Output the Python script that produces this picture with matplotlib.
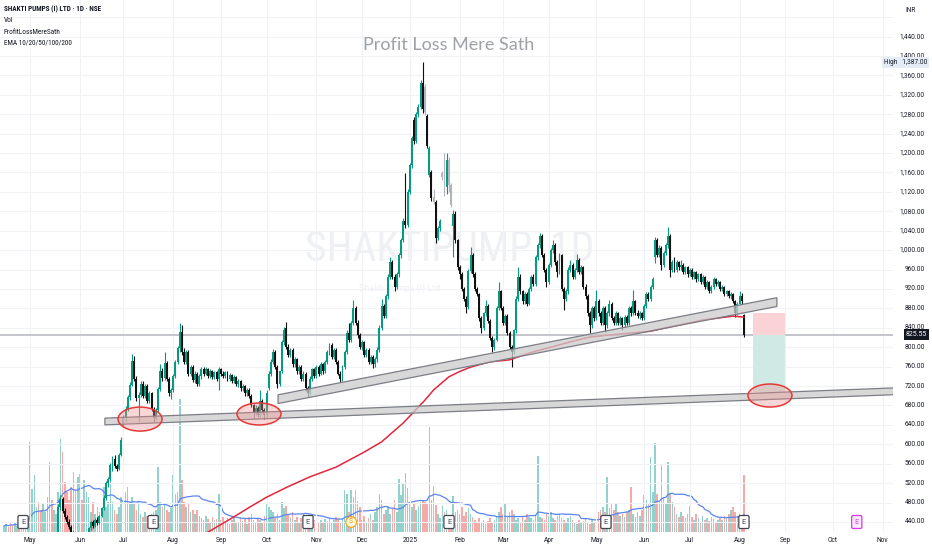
import matplotlib
matplotlib.use("Agg")
import matplotlib.pyplot as plt
import matplotlib.transforms as mtransforms
from matplotlib.patches import Polygon, Ellipse, Rectangle
from matplotlib import font_manager as fm
import numpy as np
import pandas as pd

# ---------------- data ----------------
start_date = "2024-04-15"

opens = [400,402,405,403,398,395,398,401,399,396,
393,395,399,402,404,406,408,405,402,404,
407,410,408,405,408,414,470,488,462,450,
440,430,418,410,405,408,404,402,405,410,
428,440,432,445,438,452,468,490,520,528,
558,570,556,550,578,640,655,672,698,722,
772,735,695,702,725,700,720,690,705,672,
655,670,714,752,736,768,734,706,712,740,
770,798,832,790,770,790,745,760,732,745,
725,740,755,745,755,740,750,738,748,735,
755,745,740,748,735,742,730,738,725,730,
715,720,705,712,700,680,665,675,660,690,
670,660,715,745,770,790,760,725,750,810,
840,800,785,795,765,775,750,760,735,745,
715,705,735,755,740,760,745,765,750,770,
790,805,780,795,770,745,735,760,790,830,
815,850,880,850,825,800,810,785,795,770,
780,765,775,795,840,885,865,905,945,975,
945,925,950,990,1020,1060,1052,1120,1175,1268,
1225,1280,1295,1345,1335,1276,1155,1160,1110,1100,
1025,1045,1150,1158,1130,1185,1135,1050,1075,1020,
965,950,920,900,882,958,990,950,920,910,
860,840,870,885,855,820,800,815,880,915,
880,850,865,830,800,790,835,900,945,915,
895,910,890,920,945,930,985,1010,1030,990,
960,935,970,1000,1010,975,955,990,920,900,
915,960,970,945,960,980,955,965,925,905,
870,845,880,860,895,870,850,880,845,870,
890,860,850,870,850,860,845,862,850,880,
870,895,870,865,870,860,885,910,900,925,
985,1020,990,1005,970,995,1010,1030,960,975,
960,975,965,970,955,965,950,960,945,955,
940,950,935,945,925,935,915,925,940,930,
935,920,925,910,915,905,910,895,870,890,
905,866]

highs = [405,408,410,406,402,400,404,406,403,400,
398,401,405,407,410,412,414,410,407,410,
413,415,412,410,416,478,496,492,468,455,
446,434,422,415,412,414,410,408,412,430,
442,444,448,450,455,470,495,524,532,562,
575,578,560,582,615,660,678,702,728,786,
782,740,708,730,730,724,724,710,708,676,
674,718,765,758,790,772,738,716,744,774,
802,850,846,798,795,794,764,764,750,748,
745,760,760,760,758,755,754,752,750,760,
758,750,752,750,746,745,742,740,735,733,
725,723,716,715,703,684,680,678,712,694,
675,712,750,775,796,794,764,752,815,842,
852,806,798,798,780,778,764,763,750,748,
720,740,758,758,764,763,770,768,774,794,
808,808,798,798,773,750,764,795,835,850,
855,897,885,856,830,815,813,798,798,784,
783,780,800,845,900,890,910,950,985,980,
950,955,994,1024,1066,1158,1126,1180,1236,1274,
1284,1300,1350,1387,1342,1280,1214,1165,1125,1104,
1050,1065,1162,1200,1200,1192,1138,1083,1080,1022,
970,955,925,905,962,1006,994,955,925,912,
865,872,897,888,858,824,818,884,935,918,
884,868,868,834,804,838,905,965,950,918,
914,913,924,948,950,990,1015,1035,1034,994,
964,974,1004,1020,1014,980,994,993,924,920,
965,980,974,964,992,984,970,968,930,910,
875,884,884,918,900,874,884,884,874,897,
894,865,874,873,864,863,866,866,884,884,
918,898,877,874,873,888,914,913,928,945,
1027,1024,1010,1008,998,1014,1048,1034,980,986,
980,978,980,973,968,968,964,963,958,957,
953,952,948,947,938,937,928,945,943,938,
937,928,927,918,917,913,912,898,893,915,
912,868]

lows = [395,398,400,396,392,390,394,397,393,390,
388,391,395,398,400,402,403,400,397,400,
403,405,402,400,404,412,465,458,446,436,
425,415,405,400,398,402,398,396,400,408,
424,428,430,434,435,450,465,486,512,525,
545,552,545,548,575,638,645,668,692,720,
730,690,645,698,695,696,686,686,668,645,
650,666,710,730,732,730,700,694,708,736,
765,790,785,766,765,740,740,728,726,720,
720,735,740,742,736,736,734,734,730,712,
740,736,737,730,730,726,726,720,718,710,
710,700,700,695,676,655,660,656,656,665,
652,655,712,740,765,755,716,720,746,805,
796,780,780,760,760,745,745,730,730,710,
698,702,730,736,736,740,742,745,746,765,
785,776,776,765,742,728,730,756,786,810,
810,845,845,820,796,795,780,780,766,765,
758,760,770,790,835,860,860,900,940,940,
915,920,945,984,1016,1045,1048,1115,1170,1218,
1220,1275,1290,1282,1278,1210,1150,1102,1095,1015,
1020,1040,1145,1112,1115,1120,1088,986,1015,960,
940,915,895,870,878,952,945,915,905,855,
829,836,865,850,815,790,795,812,876,876,
846,846,826,796,760,786,830,895,910,890,
890,885,886,915,926,926,980,1005,985,955,
925,930,965,995,970,945,950,915,877,896,
910,955,940,940,955,950,950,920,900,865,
829,840,855,856,865,846,846,832,840,865,
856,845,846,846,846,835,840,845,846,865,
866,866,860,858,856,856,880,895,896,920,
973,985,985,959,965,990,1005,945,955,955,
955,960,960,950,950,945,946,940,940,935,
936,930,930,920,920,911,911,920,926,926,
916,916,906,906,901,900,892,862,866,886,
890,822]

closes = [402,405,403,398,395,398,401,399,396,393,
395,399,402,404,406,408,405,402,404,407,
410,408,405,408,414,470,488,462,450,440,
430,418,410,405,408,404,402,405,410,428,
440,432,445,438,452,468,490,520,528,558,
570,556,550,578,608,655,672,698,722,772,
735,695,702,725,700,720,690,705,672,655,
670,714,752,736,768,734,706,712,740,770,
798,832,790,770,790,745,760,732,745,725,
740,755,745,755,740,750,738,748,735,755,
745,740,748,735,742,730,738,725,730,715,
720,705,712,700,680,665,675,660,690,670,
660,705,745,770,790,760,725,750,810,835,
800,785,795,765,775,750,760,735,745,715,
705,735,755,740,760,745,765,750,770,790,
805,780,795,770,745,735,760,790,830,815,
850,880,850,825,800,810,785,795,770,780,
765,775,795,840,885,865,905,945,975,945,
925,950,990,1020,1060,1052,1120,1175,1230,1225,
1280,1295,1345,1290,1285,1215,1210,1108,1100,1025,
1045,1060,1158,1130,1185,1135,1092,1075,1020,965,
950,920,900,882,958,990,950,920,910,860,
840,870,885,855,820,800,815,880,915,880,
850,865,830,800,790,835,900,945,915,895,
910,890,920,945,930,985,1010,1030,990,960,
935,970,1000,1010,975,955,990,920,900,915,
960,970,945,960,980,955,965,925,905,870,
845,880,860,895,870,850,880,845,870,890,
860,850,870,850,860,845,862,850,880,870,
895,870,865,870,860,885,910,900,925,940,
1020,990,1005,970,995,1010,1030,960,975,960,
975,965,970,955,965,950,960,945,955,940,
950,935,945,925,935,915,925,940,930,935,
920,925,910,915,905,910,895,870,890,905,
895,825.55]

volumes = [6,8,5,9,7,10,6,8,12,15,10,14,
90,43,57,25,30,22,28,20,35,70,32,22,18,40,93,80,
50,40,32,45,60,42,55,58,32,52,40,
35,
20,30,18,25,20,22,45,25,30,55,30,22,18,25,35,28,40,45,30,35,
28,22,30,18,15,20,16,14,18,20,22,
65,30,25,28,22,20,24,57,38,40,133,
52,30,25,28,20,22,18,22,16,
14,12,16,13,10,15,12,13,38,
12,15,10,14,8,12,16,10,9,14,11,13,8,15,18,12,10,14,12,9,16,
28,25,22,20,15,18,12,
30,24,26,
18,14,20,12,15,10,14,18,16,12,
17,15,12,14,10,12,9,13,11,14,10,12,15,
13,10,14,
42,38,20,42,35,42,31,25,
12,16,10,14,18,12,20,
25,38,32,18,22,26,18,24,32,20,
53,37,48,59,44,30,25,28,22,26,30,32,30,28,
105,
32,46,27,
18,14,26,20,22,15,12,36,
20,22,18,25,16,20,24,18,15,
12,10,14,9,12,8,11,14,10,12,
16,20,25,18,28,15,20,22,18,12,
14,10,16,12,18,15,14,12,16,
76,15,
14,12,18,16,20,14,12,16,18,14,12,10,14,16,12,
10,8,12,9,11,14,10,8,12,10,14,20,22,
25,20,55,24,28,22,29,20,
16,18,15,20,22,45,18,15,20,
16,22,37,32,28,75,40,89,38,30,68,35,28,70,39,30,25,
18,15,20,16,14,18,26,
15,12,18,14,10,16,12,14,11,15,13,10,12,14,
12,16,14,18,22,25,20,16,18,14,
57]

gray_bars = [194, 198, 202, 203, 205, 206]

ema_idx = [88, 94, 100, 105, 113, 121, 131, 141, 153, 166, 174, 184, 191, 194,
           198, 205, 210, 215, 224, 233, 242, 252, 261, 270, 279, 288, 298,
           307, 322, 336, 341]
ema_val = [405, 419, 435, 448, 470, 491, 513, 533, 553, 584, 605, 644, 677, 691,
           712, 739, 750, 759, 770, 774, 788, 800, 811, 821, 825, 829, 833,
           842, 856, 864, 862]

lower_channel_x = [46.5, 412.0]
lower_channel_top = [654, 716.5]
lower_channel_bot = [640, 702.5]
upper_channel_x = [126.3, 356.2]
upper_channel_top = [702, 902]
upper_channel_bot = [684, 884]

ellipse_x = [62.7, 117.5, 353.0]
ellipse_y = [652, 662.5, 700.5]

pos_x = [345.2, 359.9]
entry_price = 825.55
stop_price = 870.5
target_price = 707.8

earn_idx = [8.8, 68.7, 140.1, 205.1, 277.4, 341]
div_idx = [160]
future_earn_idx = [393]

price_ticks = list(range(440, 1441, 40))
last_price = 825.55
high_price = 1387.00

# ---------------- fonts ----------------
avail = {f.name for f in fm.fontManager.ttflist}
def pick(*names):
    for nm in names:
        if nm in avail:
            return nm
    return "DejaVu Sans"
UI = pick("Roboto", "Liberation Sans", "DejaVu Sans")
NARROW = pick("Liberation Sans Narrow", "Roboto Condensed", "Roboto", "Liberation Sans")
TITLEF = pick("Lato", "Open Sans", "Roboto")

# ---------------- figure ----------------
W, H = 932, 550
fig = plt.figure(figsize=(W / 100, H / 100), dpi=100)
fig.patch.set_facecolor("white")
axb = 18 / H
axh = 532 / H
axw = 893 / W
axv = fig.add_axes([0, axb, axw, axh])
ax = fig.add_axes([0, axb, axw, axh], sharex=axv)
ax.patch.set_visible(False)

n = min(len(opens), len(highs), len(lows), len(closes), len(volumes))
o = np.array(opens[:n], float)
h = np.array(highs[:n], float)
l = np.array(lows[:n], float)
c = np.array(closes[:n], float)
v = np.array(volumes[:n], float)
idx = np.arange(n)

XMIN, XMAX = -1.84, 409.7
YMIN, YMAX = 419.4, 1515.2
ax.set_xlim(XMIN, XMAX)
ax.set_ylim(YMIN, YMAX)
axv.set_ylim(0, v.max() / 0.25)

for a in (ax, axv):
    for s in a.spines.values():
        s.set_visible(False)
    a.set_xticks([])
    a.set_yticks([])

# dates / month labels
dates = pd.bdate_range(start=start_date, periods=int(XMAX) + 5)
month_pos, month_lab = [], []
prev = None
for i, d in enumerate(dates):
    key = (d.year, d.month)
    if key != prev:
        if prev is not None:
            month_pos.append(i)
            month_lab.append(str(d.year) if d.month == 1 else d.strftime("%b"))
        prev = key

GRID = "#f0f2f6"
for p in range(440, 1481, 40):
    ax.axhline(p, color=GRID, lw=0.8, zorder=0)
for mp in month_pos:
    ax.axvline(mp, color=GRID, lw=0.8, zorder=0)

# watermark (behind everything)
axv.text(450 / W, 1 - 249 / H, "SHAKTIPUMP, 1D", transform=fig.transFigure,
         ha="center", va="center", fontsize=30, color="#eef0f3", family=NARROW, zorder=0)
axv.text(400 / W, 1 - 288 / H, "Shakti Pumps (I) Ltd", transform=fig.transFigure,
         ha="center", va="center", fontsize=6.5, color="#eef0f3", family=UI, zorder=0)

# volume
up = c >= o
vcol = np.where(up, "#92d2cc", "#f7a9a7")
axv.bar(idx, v, width=0.72, color=vcol, lw=0, zorder=1)
vma = pd.Series(v).rolling(20, min_periods=1).mean()
axv.plot(idx, vma, color="#5b84ee", lw=0.9, zorder=2)

# last price line
ax.axhline(last_price, color="#c3c5ca", lw=1.4, zorder=1)

# position tool boxes
ax.add_patch(Rectangle((pos_x[0], entry_price), pos_x[1] - pos_x[0], stop_price - entry_price,
                       facecolor="#fbd3d7", edgecolor="none", zorder=1.5))
ax.add_patch(Rectangle((pos_x[0], target_price), pos_x[1] - pos_x[0], entry_price - target_price,
                       facecolor="#cfe9e4", edgecolor="none", zorder=1.5))

# candles
TEAL, BLACK, GRAY = "#089981", "#111111", "#b2b5be"
cols = np.where(up, TEAL, BLACK).astype(object)
for g in gray_bars:
    if g < n:
        cols[g] = GRAY
ax.vlines(idx, l, h, colors=list(cols), lw=0.8, zorder=3)
body = np.maximum(np.abs(c - o), 2.0)
ax.bar(idx, body, bottom=np.minimum(o, c), width=0.9, color=list(cols), lw=0, zorder=4)

# EMA 200
ax.plot(ema_idx, ema_val, color="#e3263b", lw=1.1, zorder=5, solid_joinstyle="round")

# trend channels
def channel(xs, top, bot):
    pts = [(xs[0], top[0]), (xs[1], top[1]), (xs[1], bot[1]), (xs[0], bot[0])]
    ax.add_patch(Polygon(pts, closed=True, facecolor=(0.80, 0.80, 0.80, 0.75),
                         edgecolor="#7b7e86", lw=0.9, zorder=6))
channel(lower_channel_x, lower_channel_top, lower_channel_bot)
channel(upper_channel_x, upper_channel_top, upper_channel_bot)

# ellipses
ew = 44 / 2.17
ehs = [24 / 0.4855, 22 / 0.4855, 23 / 0.4855]
for ex, ey, eh in zip(ellipse_x, ellipse_y, ehs):
    ax.add_patch(Ellipse((ex, ey), ew, eh, facecolor=(0.95, 0.55, 0.55, 0.35),
                         edgecolor="#e53935", lw=1.1, zorder=7))

# event markers
btr = mtransforms.blended_transform_factory(ax.transData, ax.transAxes)
mk_y = 10 / 532
for ei in earn_idx:
    ax.text(ei, mk_y, "E", transform=btr, ha="center", va="center", fontsize=5.4,
            color="#434651", family=UI, zorder=8,
            bbox=dict(boxstyle="round,pad=0.4,rounding_size=0.2", fc="white", ec="#434651", lw=0.9))
for di in div_idx:
    ax.text(di, mk_y, "$", transform=btr, ha="center", va="center", fontsize=5.4,
            color="#f59f00", family=UI, zorder=8,
            bbox=dict(boxstyle="circle,pad=0.25", fc="#fff6e0", ec="#f5a623", lw=0.9))
for fi in future_earn_idx:
    ax.text(fi, mk_y, "E", transform=btr, ha="center", va="center", fontsize=5.4,
            color="#d63be0", family=UI, zorder=8,
            bbox=dict(boxstyle="round,pad=0.4,rounding_size=0.2", fc="#fbeafd", ec="#d63be0", lw=0.9))

# month labels
for mp, ml in zip(month_pos, month_lab):
    if XMIN < mp < XMAX:
        ax.text(mp, -9 / 532, ml, transform=btr, ha="center", va="center",
                fontsize=4.8, color="#131722", family=UI, clip_on=False)

# price axis labels
ptr = mtransforms.blended_transform_factory(ax.transAxes, ax.transData)
xr = 925 / 893
for p in price_ticks:
    ax.text(xr, p, f"{p:,.2f}", transform=ptr, ha="right", va="center",
            fontsize=4.7, color="#131722", family=UI, clip_on=False)
ax.text(xr + 2 / 893, high_price, "High   1,387.00", transform=ptr, ha="right", va="center",
        fontsize=4.7, color="#131722", family=UI, clip_on=False, zorder=9,
        bbox=dict(boxstyle="square,pad=0.3", fc="#e4ecf8", ec="none"))
ax.text(xr + 2 / 893, last_price, f"{last_price:.2f}", transform=ptr, ha="right", va="center",
        fontsize=5.0, color="white", family=UI, clip_on=False, zorder=9,
        bbox=dict(boxstyle="square,pad=0.3", fc="#131722", ec="none"))
fig.text(905 / W, 1 - 11 / H, "INR", ha="left", va="center", fontsize=4.7,
         color="#131722", family=UI)

# header legend
fig.text(4 / W, 1 - 9 / H, "SHAKTI PUMPS (I) LTD · 1D · NSE", ha="left", va="center",
         fontsize=5.2, weight="bold", color="#131722", family=NARROW)
for k, s in enumerate(["Vol", "ProfitLossMereSath", "EMA 10/20/50/100/200"]):
    fig.text(4 / W, 1 - (21 + 11 * k) / H, s, ha="left", va="center",
             fontsize=5.2, color="#131722", family=NARROW)

# title
fig.text(449 / W, 1 - 45 / H, "Profit Loss Mere Sath", ha="center", va="center",
         fontsize=13, color="#9ea1a8", family=TITLEF)

fig.savefig("out.png", dpi=100, facecolor="white")
